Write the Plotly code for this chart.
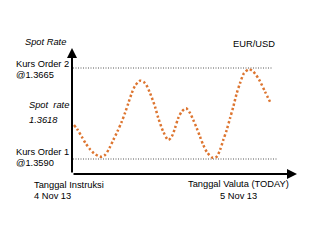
import plotly.graph_objects as go

# time axis (arbitrary units, instruction date -> value date)
t = [2, 5.3, 9.7, 13.7, 18, 22, 26.3, 29.7, 33, 37.3, 41.3, 45.3, 49.7, 53, 56.3,
     59.7, 63, 68, 73, 78, 83, 86.3, 91.3, 96.3, 99.7, 103, 106.3, 109.7, 114, 118,
     121.3, 124.7, 128, 131.3, 135.3, 140.7, 144.7, 148, 151.3, 154.7, 158, 161.3,
     164.7, 168, 172, 177, 181.3, 187.3, 193, 198]
spot = [1.36180, 1.36145, 1.36084, 1.36029, 1.35980, 1.35947, 1.35925, 1.35919,
        1.35933, 1.35988, 1.36057, 1.36125, 1.36207, 1.36279, 1.36359, 1.36441,
        1.36502, 1.36545, 1.36526, 1.36444, 1.36331, 1.36238, 1.36125, 1.36057,
        1.36084, 1.36155, 1.36238, 1.36290, 1.36318, 1.36279, 1.36221, 1.36155,
        1.36084, 1.36015, 1.35952, 1.35911, 1.35919, 1.35974, 1.36057, 1.36139,
        1.36235, 1.36331, 1.36441, 1.36524, 1.36606, 1.36639, 1.36620, 1.36551,
        1.36455, 1.36372]

order_levels = [1.3665, 1.3590]
order_ends = [201, 206]

ORANGE = "#DD7530"
FONT = "Liberation Sans, Arial, sans-serif"
FS = 9.3

fig = go.Figure()
for lvl, end in zip(order_levels, order_ends):
    fig.add_trace(go.Scatter(x=[1, end], y=[lvl, lvl], mode="lines",
                             line=dict(color="#555555", width=1, dash="1px,1.5px"),
                             hoverinfo="skip", showlegend=False))
fig.add_trace(go.Scatter(x=t, y=spot, mode="lines",
                         line=dict(color=ORANGE, width=2.5, dash="2.3px,2.3px",
                                   shape="spline", smoothing=0.8),
                         showlegend=False))

# plot area: x 72..297 px, y 48..174 px
L, R, T, B = 72, 297, 48, 174
W, H = R - L, B - T

def px(x):
    return (x - L) / W

def py(y):
    return (B - y) / H

ann = []
# axes arrows
ann.append(dict(xref="paper", yref="paper", x=0, y=1, ax=0, ay=H, axref="pixel", ayref="pixel",
                showarrow=True, arrowhead=2, arrowsize=1, arrowwidth=2, arrowcolor="black",
                text="", standoff=0))
ann.append(dict(xref="paper", yref="paper", x=1, y=0, ax=-W, ay=0, axref="pixel", ayref="pixel",
                showarrow=True, arrowhead=2, arrowsize=1, arrowwidth=2, arrowcolor="black",
                text="", standoff=0))

def txt(s, x, y, anchor="left", italic=False):
    ann.append(dict(xref="paper", yref="paper", x=px(x), y=py(y), text=s, showarrow=False,
                    xanchor=anchor, yanchor="middle",
                    font=dict(family=FONT, size=FS, color="black",
                              style="italic" if italic else "normal")))

txt("Spot Rate", 68, 42, "right", True)
txt("EUR/USD", 231, 44)
txt("Kurs Order 2", 14, 64)
txt("@1.3665", 14, 75)
txt("Spot  rate", 27, 105, italic=True)
txt("1.3618", 27, 120, italic=True)
txt("Kurs Order 1", 14, 152)
txt("@1.3590", 14, 163)
txt("Tanggal Instruksi", 32, 185)
txt("4 Nov 13", 32, 196)
txt("Tanggal Valuta (TODAY)", 238, 184, "center")
txt("5 Nov 13", 238, 196, "center")

fig.update_layout(
    width=325, height=243,
    margin=dict(l=L, r=325 - R, t=T, b=243 - B),
    paper_bgcolor="white", plot_bgcolor="white",
    xaxis=dict(range=[0, W], visible=False),
    yaxis=dict(range=[1.357764, 1.368148], visible=False),
    annotations=ann,
    showlegend=False,
)
fig.write_html("out.html")
